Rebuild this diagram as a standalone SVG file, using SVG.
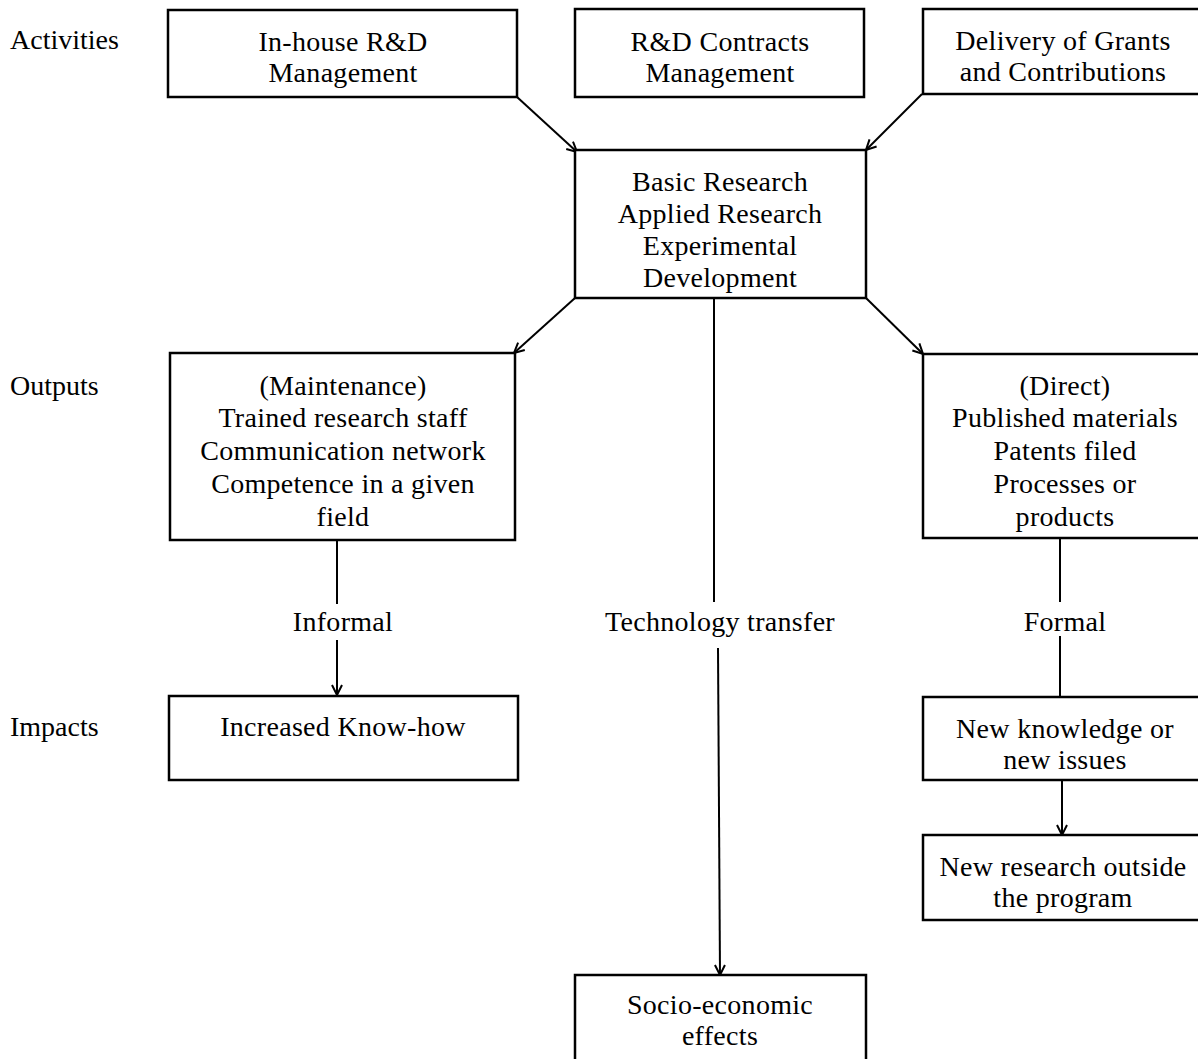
<svg xmlns="http://www.w3.org/2000/svg" width="1198" height="1059" viewBox="0 0 1198 1059">
<style>
.box{fill:#fff;stroke:#000;stroke-width:2.5}
.t{font-family:"Liberation Serif","Times New Roman",serif;font-size:28px;letter-spacing:0.3px;fill:#000;text-anchor:middle}
.l{font-family:"Liberation Serif","Times New Roman",serif;font-size:28px;fill:#000}
.c{fill:none;stroke:#000;stroke-width:2}
</style>
<defs>
<marker id="ah" viewBox="0 0 12 12" refX="11" refY="6" markerWidth="12" markerHeight="12" markerUnits="userSpaceOnUse" orient="auto">
<path d="M1,1 L11,6 L1,11" fill="none" stroke="#000" stroke-width="2"/>
</marker>
</defs>
<rect width="1198" height="1059" fill="#fff"/>
<g id="labels">
<text class="l" x="10" y="49">Activities</text>
<text class="l" x="10" y="395">Outputs</text>
<text class="l" x="10" y="736">Impacts</text>
</g>
<g id="connectors">
<line class="c" x1="517" y1="97" x2="577" y2="152" marker-end="url(#ah)"/>
<line class="c" x1="922" y1="94" x2="866" y2="150" marker-end="url(#ah)"/>
<line class="c" x1="575" y1="298" x2="514" y2="353" marker-end="url(#ah)"/>
<line class="c" x1="866" y1="298" x2="923" y2="354" marker-end="url(#ah)"/>
<line class="c" x1="714" y1="298" x2="714" y2="602"/>
<line class="c" x1="718" y1="648" x2="720" y2="975" marker-end="url(#ah)"/>
<line class="c" x1="337" y1="540" x2="337" y2="604"/>
<line class="c" x1="337" y1="640" x2="337" y2="695" marker-end="url(#ah)"/>
<line class="c" x1="1060" y1="538" x2="1060" y2="602"/>
<line class="c" x1="1060" y1="636" x2="1060" y2="697"/>
<line class="c" x1="1062" y1="780" x2="1062" y2="835" marker-end="url(#ah)"/>
<text class="t" x="343" y="631">Informal</text>
<text class="t" x="720" y="631">Technology transfer</text>
<text class="t" x="1065" y="631">Formal</text>
</g>
<g id="n_inhouse">
<rect class="box" x="168" y="10" width="349" height="87"/>
<text class="t" x="343" y="51">In-house R&amp;D</text>
<text class="t" x="343" y="82">Management</text>
</g>
<g id="n_contracts">
<rect class="box" x="575" y="9" width="289" height="88"/>
<text class="t" x="720" y="51">R&amp;D Contracts</text>
<text class="t" x="720" y="82">Management</text>
</g>
<g id="n_grants">
<rect class="box" x="923" y="9" width="290" height="85"/>
<text class="t" x="1063" y="50">Delivery of Grants</text>
<text class="t" x="1063" y="81">and Contributions</text>
</g>
<g id="n_research">
<rect class="box" x="575" y="150" width="291" height="148"/>
<text class="t" x="720" y="191">Basic Research</text>
<text class="t" x="720" y="223">Applied Research</text>
<text class="t" x="720" y="255">Experimental</text>
<text class="t" x="720" y="287">Development</text>
</g>
<g id="n_maintenance">
<rect class="box" x="170" y="353" width="345" height="187"/>
<text class="t" x="343" y="395">(Maintenance)</text>
<text class="t" x="343" y="427">Trained research staff</text>
<text class="t" x="343" y="460">Communication network</text>
<text class="t" x="343" y="493">Competence in a given</text>
<text class="t" x="343" y="526">field</text>
</g>
<g id="n_direct">
<rect class="box" x="923" y="354" width="290" height="184"/>
<text class="t" x="1065" y="395">(Direct)</text>
<text class="t" x="1065" y="427">Published materials</text>
<text class="t" x="1065" y="460">Patents filed</text>
<text class="t" x="1065" y="493">Processes or</text>
<text class="t" x="1065" y="526">products</text>
</g>
<g id="n_knowhow">
<rect class="box" x="169" y="696" width="349" height="84"/>
<text class="t" x="343" y="736">Increased Know-how</text>
</g>
<g id="n_knowledge">
<rect class="box" x="923" y="697" width="290" height="83"/>
<text class="t" x="1065" y="738">New knowledge or</text>
<text class="t" x="1065" y="769">new issues</text>
</g>
<g id="n_newresearch">
<rect class="box" x="923" y="835" width="290" height="85"/>
<text class="t" x="1063" y="876">New research outside</text>
<text class="t" x="1063" y="907">the program</text>
</g>
<g id="n_socio">
<rect class="box" x="575" y="975" width="291" height="95"/>
<text class="t" x="720" y="1014">Socio-economic</text>
<text class="t" x="720" y="1045">effects</text>
</g>
</svg>
